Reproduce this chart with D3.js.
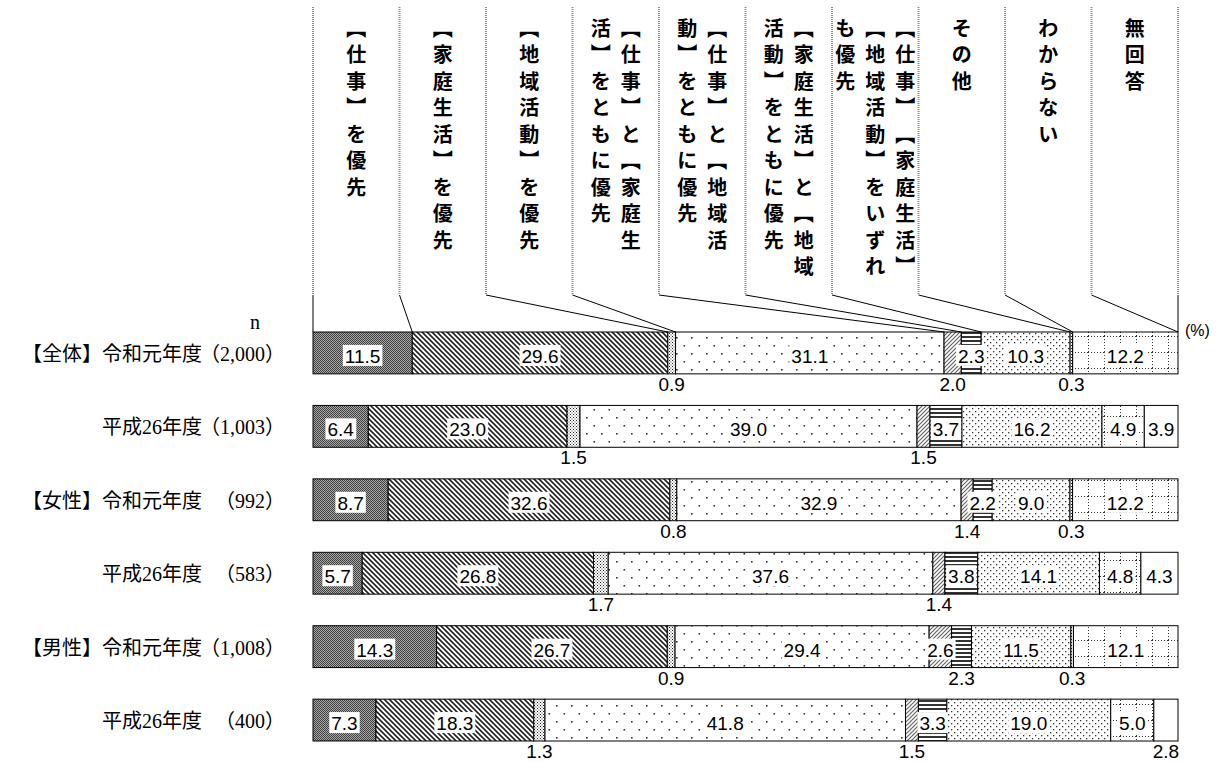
<!DOCTYPE html>
<html>
<head>
<meta charset="utf-8">
<script src="https://cdn.jsdelivr.net/npm/d3@7"></script>
<style>
  body { margin: 0; background: #fff; }
  svg { display: block; }
</style>
</head>
<body>
<div id="chart"></div>
<script>
// categories (header text split into vertical columns, right to left)
var headerLines = [
  ["【仕事】を優先"],
  ["【家庭生活】を優先"],
  ["【地域活動】を優先"],
  ["【仕事】と【家庭生", "活】をともに優先"],
  ["【仕事】と【地域活", "動】をともに優先"],
  ["【家庭生活】と【地域", "活動】をともに優先"],
  ["【仕事】【家庭生活】", "【地域活動】をいずれ", "も優先"],
  ["その他"],
  ["わからない"],
  ["無回答"]
];

var rowNames = ["【全体】令和元年度", "平成26年度", "【女性】令和元年度", "平成26年度", "【男性】令和元年度", "平成26年度"];
var rowN = ["（2,000）", "（1,003）", "（992）", "（583）", "（1,008）", "（400）"];

// values in %, order = categories above (null = not asked that year)
var zentaiR1  = [11.5, 29.6, 0.9, 31.1, 2.0, 2.3, 10.3, 0.3, 12.2, null];
var zentaiH26 = [6.4, 23.0, 1.5, 39.0, 1.5, 3.7, 16.2, null, 4.9, 3.9];
var joseiR1   = [8.7, 32.6, 0.8, 32.9, 1.4, 2.2, 9.0, 0.3, 12.2, null];
var joseiH26  = [5.7, 26.8, 1.7, 37.6, 1.4, 3.8, 14.1, null, 4.8, 4.3];
var danseiR1  = [14.3, 26.7, 0.9, 29.4, 2.6, 2.3, 11.5, 0.3, 12.1, null];
var danseiH26 = [7.3, 18.3, 1.3, 41.8, 1.5, 3.3, 19.0, null, 5.0, 2.8];
var rowValues = [zentaiR1, zentaiH26, joseiR1, joseiH26, danseiR1, danseiH26];

// labels drawn under the bar instead of inside: [row, category]
var outsideLabels = [[0,2],[0,4],[0,7],[1,2],[1,4],[2,2],[2,4],[2,7],[3,2],[3,4],[4,2],[4,5],[4,7],[5,2],[5,4],[5,9]];

var W = 1221, H = 762;
var left = 313, right = 1178;

var svg = d3.select("#chart").append("svg")
  .attr("width", W).attr("height", H);
svg.append("rect").attr("width", W).attr("height", H).attr("fill", "#fff");

var defs = svg.append("defs");

// fill patterns, one per category
function pat(id, w, h, draw, bg) {
  var p = defs.append("pattern").attr("id", id)
    .attr("patternUnits", "userSpaceOnUse").attr("width", w).attr("height", h);
  p.append("rect").attr("width", w).attr("height", h).attr("fill", bg || "#fff");
  draw(p);
}
function dot(p, x, y, s, c) {
  p.append("rect").attr("x", x).attr("y", y).attr("width", s).attr("height", s).attr("fill", c);
}
pat("p0", 2, 2, function(p){ dot(p,0,0,1,"#404040"); dot(p,1,1,1,"#404040"); }, "#a8a8a8");
pat("p1", 5, 5, function(p){
  p.append("path").attr("d", "M0,0L5,5M-1,4L1,6M4,-1L6,1").attr("stroke", "#222").attr("stroke-width", 1.6);
});
pat("p2", 3, 3, function(p){ dot(p,0,0,1,"#222"); dot(p,1.5,1.5,1,"#444"); });
pat("p3", 15, 16, function(p){ dot(p,1,1,1.6,"#333"); dot(p,8.5,9,1.6,"#333"); });
pat("p4", 4, 4, function(p){
  p.append("path").attr("d", "M0,4L4,0M-1,1L1,-1M3,5L5,3").attr("stroke", "#666").attr("stroke-width", 1.2);
});
pat("p5", 4, 4, function(p){ p.append("rect").attr("y", 0).attr("width", 4).attr("height", 2).attr("fill", "#333"); });
pat("p6", 6, 6, function(p){ dot(p,0,0,1.3,"#333"); dot(p,3,3,1.3,"#333"); });
pat("p7", 3, 3, function(p){ dot(p,0,0,1,"#222"); });
pat("p8", 16, 16, function(p){
  for (var i = 0; i < 16; i += 3) { dot(p,0,i,1,"#333"); dot(p,i,0,1,"#333"); }
});
pat("p9", 4, 4, function(){}, "#fff");

// stacked layout through d3.stack, normalized to 100%
var table = rowValues.map(function(v, i){ return {row: i, values: v}; });
var keys = d3.range(headerLines.length);
var series = d3.stack()
  .keys(keys)
  .value(function(d, k){ return d.values[k] || 0; })
  .offset(d3.stackOffsetExpand)(table);

var x = d3.scaleLinear().domain([0, 1]).range([left, right]);
var y = d3.scaleBand().domain(d3.range(rowValues.length)).range([332, 741]).paddingInner(0.43).paddingOuter(0);

// segments
var layers = svg.append("g").selectAll("g").data(series).join("g")
  .attr("fill", function(s){ return "url(#p" + s.key + ")"; });
layers.selectAll("rect")
  .data(function(s){ return s.filter(function(d){ return d[1] - d[0] > 0; }); })
  .join("rect")
  .attr("x", function(d){ return x(d[0]); })
  .attr("width", function(d){ return x(d[1]) - x(d[0]); })
  .attr("y", function(d){ return y(d.data.row); })
  .attr("height", y.bandwidth())
  .attr("stroke", "#000")
  .attr("stroke-width", 1);

// header columns and leader lines
var colW = (right - left) / headerLines.length;
var hdr = svg.append("g");
d3.range(headerLines.length + 1).forEach(function(i){
  var sx = left + i * colW;
  hdr.append("line")
    .attr("x1", sx).attr("x2", sx).attr("y1", 7).attr("y2", 295)
    .attr("stroke", "#8a8a8a").attr("stroke-width", 2).attr("stroke-dasharray", "1,1");
  var tx = i < headerLines.length ? x(series[i][0][0]) : x(1);
  hdr.append("line")
    .attr("x1", sx).attr("y1", 295).attr("x2", tx).attr("y2", y(0))
    .attr("stroke", "#000").attr("stroke-width", 1);
});

// vertical writing: one glyph per cell, brackets in their vertical forms
var vertForm = {"【": "\uFE3B", "】": "\uFE3C"};
var charStep = 26.5;
headerLines.forEach(function(lines, i){
  var cx = left + (i + 0.5) * colW;
  lines.forEach(function(t, j){
    var colX = cx + ((lines.length - 1) / 2 - j) * 30;
    Array.from(t).forEach(function(ch, k){
      hdr.append("text")
        .attr("x", colX)
        .attr("y", 27 + k * charStep)
        .attr("text-anchor", "middle")
        .attr("dominant-baseline", "central")
        .attr("font-family", "'Noto Sans CJK JP'")
        .attr("font-weight", "bold")
        .attr("font-size", 20)
        .text(vertForm[ch] || ch);
    });
  });
});

// row labels
var rowG = svg.append("g").attr("font-family", "'Liberation Serif','Noto Sans CJK JP'").attr("font-size", 20);
rowNames.forEach(function(name, i){
  var cy = y(i) + y.bandwidth() / 2 + 8;
  rowG.append("text").attr("x", 202).attr("y", cy).attr("text-anchor", "end").text(name);
  rowG.append("text").attr("x", 285).attr("y", cy).attr("text-anchor", "end").text(rowN[i]);
});
rowG.append("text").attr("x", 255).attr("y", 329).attr("text-anchor", "middle").text("n");
svg.append("text").attr("x", 1185).attr("y", 336)
  .attr("font-family", "'Liberation Sans'").attr("font-size", 16).text("(%)");

// value labels
var isOut = {};
outsideLabels.forEach(function(o){ isOut[o[0] + "_" + o[1]] = true; });
var lab = svg.append("g").attr("font-family", "'Liberation Sans',Arial").attr("font-size", 19);
series.forEach(function(s){
  s.forEach(function(d){
    var v = d.data.values[s.key];
    if (v == null) return;
    var out = isOut[d.data.row + "_" + s.key];
    var cx = (x(d[0]) + x(d[1])) / 2;
    var cy = out ? y(d.data.row) + y.bandwidth() + 10 : y(d.data.row) + y.bandwidth() / 2 + 3;
    var g = lab.append("g");
    var t = g.append("text").attr("x", cx).attr("y", cy + 7)
      .attr("text-anchor", "middle").attr("fill", "#000").text(v.toFixed(1));
    var b = t.node().getBBox();
    var top = out ? cy - 8 : cy - 11;
    g.insert("rect", "text")
      .attr("x", b.x - 2).attr("y", top).attr("width", b.width + 4).attr("height", cy + 10 - top)
      .attr("fill", "#fff");
  });
});
</script>
</body>
</html>
